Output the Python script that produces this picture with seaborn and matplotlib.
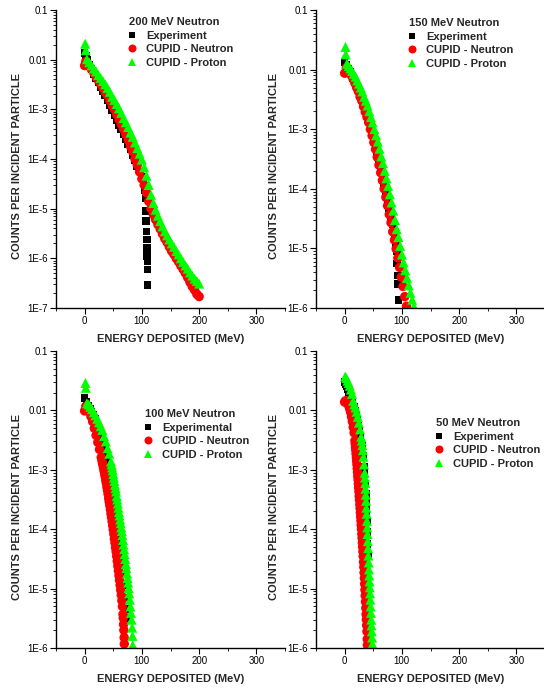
import numpy as np
import pandas as pd
import matplotlib
matplotlib.use("Agg")
import matplotlib.pyplot as plt
import seaborn as sns
from matplotlib.lines import Line2D
from matplotlib.ticker import LogLocator, NullFormatter, MultipleLocator

sns.set_theme(style="ticks")
plt.rcParams["font.family"] = ["Liberation Sans", "DejaVu Sans"]

# ---------------- data ----------------
# 200 MeV
e200_exp = [0, 2, 4, 8, 12, 16, 20, 24, 28, 32, 36, 40, 44, 48, 52, 56, 60, 64, 68, 72, 76, 80, 84, 88, 92, 96,
            100, 103, 105, 106, 107, 107.5, 108, 108.5, 109, 109.3, 109.5, 109.7, 110]
c200_exp = [1.35e-2, 1.2e-2, 1.0e-2, 7.9e-3, 6.5e-3, 5.2e-3, 4.3e-3, 3.5e-3, 2.8e-3, 2.3e-3, 1.9e-3, 1.5e-3, 1.2e-3,
            9.5e-4, 7.6e-4, 6.0e-4, 4.9e-4, 4.0e-4, 3.2e-4, 2.5e-4, 2.0e-4, 1.55e-4, 1.2e-4, 9.3e-5, 7.2e-5, 5.6e-5,
            4.3e-5, 3.2e-5, 2.4e-5, 1.6e-5, 8.9e-6, 5.6e-6, 3.5e-6, 2.4e-6, 1.6e-6, 1.1e-6, 8.9e-7, 6.0e-7, 2.9e-7]
e200_neu = [0, 2, 4, 8, 12, 16, 20, 24, 28, 32, 36, 40, 44, 48, 52, 56, 60, 64, 68, 72, 76, 80, 84, 88, 92, 96,
            100, 104, 108, 112, 116, 120, 124, 128, 132, 136, 140, 144, 148, 152, 156, 160, 164, 168, 172, 176,
            180, 184, 188, 192, 196, 200]
c200_neu = [7.6e-3, 9.2e-3, 8.7e-3, 7.4e-3, 6.3e-3, 5.4e-3, 4.5e-3, 3.8e-3, 3.2e-3, 2.7e-3, 2.2e-3, 1.9e-3, 1.5e-3,
            1.2e-3, 1.0e-3, 7.9e-4, 6.3e-4, 5.0e-4, 4.0e-4, 3.1e-4, 2.4e-4, 1.8e-4, 1.4e-4, 1.0e-4, 7.6e-5, 5.5e-5,
            4.0e-5, 3.0e-5, 2.1e-5, 1.4e-5, 1.0e-5, 7.6e-6, 6.0e-6, 4.8e-6, 3.9e-6, 3.1e-6, 2.5e-6, 2.1e-6, 1.7e-6,
            1.4e-6, 1.2e-6, 1.0e-6, 8.5e-7, 7.1e-7, 6.0e-7, 5.0e-7, 4.1e-7, 3.3e-7, 2.7e-7, 2.3e-7, 1.9e-7, 1.7e-7]
e200_pro = [1, 2, 4, 8, 12, 16, 20, 24, 28, 32, 36, 40, 44, 48, 52, 56, 60, 64, 68, 72, 76, 80, 84, 88, 92, 96,
            100, 104, 108, 112, 116, 120, 124, 128, 132, 136, 140, 144, 148, 152, 156, 160, 164, 168, 172, 176,
            180, 184, 188, 192, 196, 200]
c200_pro = [2.1e-2, 1.55e-2, 1.02e-2, 8.9e-3, 7.7e-3, 6.6e-3, 5.8e-3, 4.9e-3, 4.3e-3, 3.7e-3, 3.2e-3, 2.7e-3,
            2.25e-3, 1.8e-3, 1.55e-3, 1.28e-3, 1.05e-3, 8.5e-4, 6.7e-4, 5.5e-4, 4.4e-4, 3.4e-4, 2.8e-4, 2.15e-4,
            1.65e-4, 1.28e-4, 9.7e-5, 6.8e-5, 4.6e-5, 3.0e-5, 1.9e-5, 1.3e-5, 9.5e-6, 7.2e-6, 5.6e-6, 4.4e-6,
            3.5e-6, 2.9e-6, 2.4e-6, 2.0e-6, 1.7e-6, 1.4e-6, 1.2e-6, 1.0e-6, 8.5e-7, 7.2e-7, 6.2e-7, 5.2e-7,
            4.5e-7, 3.9e-7, 3.5e-7, 3.1e-7]

# 150 MeV
e150_exp = [0, 3, 6, 9, 12, 15, 18, 21, 24, 27, 30, 33, 36, 39, 42, 45, 48, 51, 54, 57, 60, 63, 66, 69, 72, 75,
            78, 81, 84, 87, 90, 91, 92, 93, 93.5, 94]
c150_exp = [1.35e-2, 1.2e-2, 1.05e-2, 9.3e-3, 8.3e-3, 7.2e-3, 6.3e-3, 5.4e-3, 4.6e-3, 3.9e-3, 3.2e-3, 2.7e-3,
            2.2e-3, 1.8e-3, 1.4e-3, 1.1e-3, 8.7e-4, 6.8e-4, 5.2e-4, 4.0e-4, 3.0e-4, 2.2e-4, 1.66e-4, 1.23e-4,
            8.9e-5, 6.5e-5, 4.7e-5, 3.4e-5, 2.5e-5, 1.74e-5, 1.2e-5, 8.9e-6, 5.6e-6, 3.5e-6, 2.5e-6, 1.35e-6]
e150_neu = [0, 3, 6, 9, 12, 15, 18, 21, 24, 27, 30, 33, 36, 39, 42, 45, 48, 51, 54, 57, 60, 63, 66, 69, 72, 75,
            78, 81, 84, 87, 90, 93, 96, 99, 102, 105, 108]
c150_neu = [8.7e-3, 1.07e-2, 1.0e-2, 8.9e-3, 7.9e-3, 6.9e-3, 5.9e-3, 5.0e-3, 4.3e-3, 3.5e-3, 3.0e-3, 2.4e-3,
            1.95e-3, 1.6e-3, 1.3e-3, 1.0e-3, 7.8e-4, 6.0e-4, 4.6e-4, 3.4e-4, 2.5e-4, 1.86e-4, 1.38e-4, 1.0e-4,
            7.2e-5, 5.2e-5, 3.7e-5, 2.7e-5, 1.9e-5, 1.38e-5, 9.8e-6, 6.9e-6, 4.8e-6, 3.3e-6, 2.3e-6, 1.55e-6,
            1.07e-6]
e150_pro = [1.5, 2, 4, 7, 10, 13, 16, 19, 22, 25, 28, 31, 34, 37, 40, 43, 46, 49, 52, 55, 58, 61, 64, 67, 70,
            73, 76, 79, 82, 85, 88, 91, 94, 97, 100, 103, 106, 109, 112, 115, 118, 121]
c150_pro = [2.4e-2, 1.8e-2, 1.26e-2, 1.15e-2, 1.05e-2, 9.5e-3, 8.5e-3, 7.6e-3, 6.6e-3, 5.8e-3, 5.0e-3, 4.3e-3,
            3.5e-3, 3.0e-3, 2.5e-3, 2.0e-3, 1.6e-3, 1.3e-3, 1.0e-3, 7.9e-4, 6.2e-4, 4.7e-4, 3.5e-4, 2.7e-4,
            2.0e-4, 1.5e-4, 1.12e-4, 8.1e-5, 5.9e-5, 4.3e-5, 3.0e-5, 2.1e-5, 1.55e-5, 1.1e-5, 7.9e-6, 5.8e-6,
            4.3e-6, 3.2e-6, 2.4e-6, 1.8e-6, 1.38e-6, 1.07e-6]

# 100 MeV
e100_exp = [0, 3, 6, 9, 12, 15, 18, 21, 24, 27, 30, 33, 36, 39, 42, 45, 48, 50, 52, 54, 56, 58, 60, 62, 64, 66,
            68, 69.5, 70.5, 71.3, 72, 72.5]
c100_exp = [1.6e-2, 1.38e-2, 1.2e-2, 1.07e-2, 9.5e-3, 8.3e-3, 7.2e-3, 6.2e-3, 5.2e-3, 4.4e-3, 3.5e-3, 2.8e-3,
            2.2e-3, 1.66e-3, 1.23e-3, 8.9e-4, 6.3e-4, 4.9e-4, 3.7e-4, 2.8e-4, 2.1e-4, 1.55e-4, 1.12e-4, 8.1e-5,
            5.8e-5, 4.0e-5, 2.7e-5, 1.8e-5, 1.12e-5, 7.1e-6, 4.5e-6, 3.2e-6]
e100_neu = [0, 2, 5, 8, 11, 14, 17, 20, 23, 26, 29, 30, 31, 32, 33, 34, 35, 36, 37, 38, 39, 40, 41, 42, 43, 44,
            45, 46, 47, 48, 49, 50, 51, 52, 53, 54, 55, 56, 57, 58, 59, 60, 61, 62, 63, 64, 65, 66, 67, 67.5, 68,
            68.5, 69, 69.3]
c100_neu = [9.8e-3, 1.17e-2, 1.12e-2, 9.5e-3, 7.9e-3, 6.5e-3, 5.0e-3, 3.8e-3, 2.9e-3, 2.2e-3, 1.62e-3, 1.48e-3,
            1.32e-3, 1.2e-3, 1.07e-3, 9.5e-4, 8.5e-4, 7.6e-4, 6.6e-4, 5.9e-4, 5.1e-4, 4.5e-4, 3.9e-4, 3.3e-4,
            2.9e-4, 2.5e-4, 2.14e-4, 1.82e-4, 1.58e-4, 1.35e-4, 1.15e-4, 9.8e-5, 8.3e-5, 6.9e-5, 5.9e-5, 4.9e-5,
            4.2e-5, 3.5e-5, 2.9e-5, 2.4e-5, 2.0e-5, 1.66e-5, 1.38e-5, 1.15e-5, 9.5e-6, 7.8e-6, 6.3e-6, 5.0e-6,
            3.7e-6, 3.2e-6, 2.5e-6, 2.0e-6, 1.5e-6, 1.17e-6]
e100_pro = [1.5, 2, 4, 7, 10, 13, 16, 19, 22, 25, 28, 31, 34, 37, 40, 43, 46, 47, 48, 49, 50, 51, 52, 53, 54, 55,
            56, 57, 58, 59, 60, 61, 62, 63, 64, 65, 66, 67, 68, 69, 70, 71, 72, 73, 74, 75, 76, 77, 78, 79, 80,
            81, 82, 83, 83.5, 84]
c100_pro = [2.9e-2, 2.4e-2, 1.32e-2, 1.26e-2, 1.15e-2, 1.05e-2, 9.3e-3, 8.3e-3, 7.2e-3, 6.3e-3, 5.4e-3, 4.7e-3,
            3.7e-3, 3.0e-3, 2.3e-3, 1.86e-3, 1.38e-3, 1.23e-3, 1.1e-3, 9.8e-4, 8.5e-4, 7.4e-4, 6.5e-4, 5.6e-4,
            4.9e-4, 4.3e-4, 3.6e-4, 3.16e-4, 2.7e-4, 2.3e-4, 1.95e-4, 1.7e-4, 1.45e-4, 1.26e-4, 1.07e-4, 9.3e-5,
            7.9e-5, 6.6e-5, 5.5e-5, 4.6e-5, 3.8e-5, 3.16e-5, 2.6e-5, 2.2e-5, 1.8e-5, 1.5e-5, 1.26e-5, 1.02e-5,
            8.3e-6, 6.5e-6, 5.0e-6, 3.9e-6, 3.0e-6, 2.2e-6, 1.6e-6, 1.12e-6]

# 50 MeV
e50_exp = [0, 2, 4, 6, 8, 10, 12, 14, 16, 18, 20, 22, 24, 26, 28, 30, 32, 34, 35, 36, 37, 37.5, 38, 38.5, 39,
           39.5, 40, 40.5]
c50_exp = [3.0e-2, 2.8e-2, 2.6e-2, 2.3e-2, 2.0e-2, 1.8e-2, 1.55e-2, 1.35e-2, 1.15e-2, 9.8e-3, 8.3e-3, 6.9e-3,
           5.6e-3, 4.5e-3, 3.4e-3, 2.5e-3, 1.74e-3, 1.12e-3, 8.3e-4, 5.9e-4, 4.0e-4, 3.2e-4, 2.5e-4, 1.9e-4,
           1.4e-4, 8.9e-5, 5.6e-5, 3.5e-5]
e50_neu = [0, 1.5, 3, 4.5, 6, 7.5, 9, 10.5, 12, 13.5, 15, 16.5, 18, 18.5, 19, 19.5, 20, 20.5, 21, 21.5, 22, 22.5,
           23, 23.5, 24, 24.5, 25, 25.5, 26, 26.5, 27, 27.5, 28, 28.5, 29, 29.5, 30, 30.5, 31, 31.5, 32, 32.5,
           33, 33.5, 34, 34.5, 35, 35.5, 36, 36.5, 37, 37.5, 38, 38.5, 39, 39.5, 39.7]
c50_neu = [1.38e-2, 1.45e-2, 1.45e-2, 1.38e-2, 1.29e-2, 1.17e-2, 1.05e-2, 9.3e-3, 7.8e-3, 6.5e-3, 5.2e-3, 4.2e-3,
           3.1e-3, 2.75e-3, 2.4e-3, 2.14e-3, 1.86e-3, 1.62e-3, 1.41e-3, 1.23e-3, 1.05e-3, 9.1e-4, 7.8e-4, 6.8e-4,
           5.8e-4, 5.0e-4, 4.3e-4, 3.6e-4, 3.1e-4, 2.6e-4, 2.24e-4, 1.9e-4, 1.62e-4, 1.38e-4, 1.17e-4, 1.0e-4,
           8.3e-5, 7.1e-5, 5.9e-5, 5.0e-5, 4.2e-5, 3.5e-5, 2.8e-5, 2.3e-5, 1.86e-5, 1.5e-5, 1.2e-5, 9.5e-6,
           7.6e-6, 6.0e-6, 4.7e-6, 3.7e-6, 3.0e-6, 2.4e-6, 1.9e-6, 1.41e-6, 1.12e-6]
e50_pro = [1, 3, 5, 7, 9, 11, 13, 15, 17, 19, 21, 23, 25, 27, 29, 30, 31, 32, 33, 34, 35, 35.5, 36, 36.5, 37,
           37.5, 38, 38.5, 39, 39.5, 40, 40.5, 41, 41.5, 42, 42.5, 43, 43.5, 44, 44.5, 45, 45.5, 46, 46.5, 47,
           47.5, 48, 48.5]
c50_pro = [3.7e-2, 3.5e-2, 3.16e-2, 2.9e-2, 2.6e-2, 2.24e-2, 1.9e-2, 1.45e-2, 1.26e-2, 1.12e-2, 9.5e-3, 7.8e-3,
           6.2e-3, 4.8e-3, 3.6e-3, 3.1e-3, 2.6e-3, 2.14e-3, 1.66e-3, 1.23e-3, 8.9e-4, 7.4e-4, 6.0e-4, 4.8e-4,
           3.8e-4, 3.0e-4, 2.3e-4, 1.82e-4, 1.38e-4, 1.07e-4, 8.3e-5, 6.3e-5, 4.8e-5, 3.6e-5, 2.75e-5, 2.1e-5,
           1.66e-5, 1.32e-5, 1.05e-5, 8.3e-6, 6.5e-6, 5.0e-6, 3.9e-6, 3.0e-6, 2.4e-6, 1.9e-6, 1.5e-6, 1.17e-6]

panel_titles = ["200 MeV Neutron", "150 MeV Neutron", "100 MeV Neutron", "50 MeV Neutron"]
exp_labels = ["Experiment", "Experiment", "Experimental", "Experiment"]
neu_label = "CUPID - Neutron"
pro_label = "CUPID - Proton"
x_ticks = [0, 100, 200, 300]
x_label = "ENERGY DEPOSITED (MeV)"
y_label = "COUNTS PER INCIDENT PARTICLE"

# ---------------- layout ----------------
W, H = 544, 688
fig = plt.figure(figsize=(W / 100, H / 100), dpi=100)

def add_ax(l, t, w, h):
    return fig.add_axes([l / W, 1 - (t + h) / H, w / W, h / H])

specs = [
    dict(rect=(56, 10, 229, 298), ymin=1e-7, data=[(e200_exp, c200_exp), (e200_neu, c200_neu), (e200_pro, c200_pro)],
         leg=(129, 17), ylx=-0.148),
    dict(rect=(316, 10, 229, 298), ymin=1e-6, data=[(e150_exp, c150_exp), (e150_neu, c150_neu), (e150_pro, c150_pro)],
         leg=(409, 18), ylx=-0.162),
    dict(rect=(56, 351, 229, 297), ymin=1e-6, data=[(e100_exp, c100_exp), (e100_neu, c100_neu), (e100_pro, c100_pro)],
         leg=(145, 409), ylx=-0.148),
    dict(rect=(316, 351, 229, 297), ymin=1e-6, data=[(e50_exp, c50_exp), (e50_neu, c50_neu), (e50_pro, c50_pro)],
         leg=(436, 418), ylx=-0.162),
]

colors = {"exp": "#000000", "neu": "#ff0000", "pro": "#00ff00"}
mk = {"exp": "s", "neu": "o", "pro": "^"}
sz = {"exp": 30, "neu": 46, "pro": 52}
bold = {"weight": "bold", "size": 8}

def fmt_tick(v):
    if v >= 0.01:
        return "0.1" if v > 0.05 else "0.01"
    return "1E%d" % int(round(np.log10(v)))

for i, sp in enumerate(specs):
    ax = add_ax(*sp["rect"])
    keys = ["exp", "neu", "pro"]
    frames = []
    for k, (e, c) in zip(keys, sp["data"]):
        frames.append(pd.DataFrame({"E": e, "counts": c, "series": k}))
    df = pd.concat(frames, ignore_index=True)
    sns.scatterplot(data=df, x="E", y="counts", hue="series", style="series", size="series",
                    palette=colors, markers=mk, sizes=sz, hue_order=keys, style_order=keys,
                    size_order=keys, linewidth=0, legend=False, ax=ax)
    ax.set_yscale("log")
    ax.set_xlim(-50, 350)
    ax.set_ylim(sp["ymin"], 0.1)
    decs = [10.0 ** p for p in range(int(round(np.log10(sp["ymin"]))), 0)]
    ax.set_yticks(decs, [fmt_tick(v) for v in decs])
    ax.yaxis.set_minor_locator(LogLocator(base=10, subs=np.arange(2, 10)))
    ax.yaxis.set_minor_formatter(NullFormatter())
    ax.set_xticks(x_ticks, [str(t) for t in x_ticks])
    ax.xaxis.set_minor_locator(MultipleLocator(50))
    ax.tick_params(which="major", direction="out", length=4, width=0.8, labelsize=7, pad=2, color="black",
                   labelcolor="black")
    ax.tick_params(which="minor", direction="out", length=2.5, width=0.6, color="black")
    for s in ["top", "right"]:
        ax.spines[s].set_visible(False)
    for s in ["left", "bottom"]:
        ax.spines[s].set_linewidth(1.0)
        ax.spines[s].set_color("black")
    ax.set_facecolor("none")
    ax.set_xlabel(x_label, fontdict=bold)
    ax.set_ylabel(y_label, fontdict=bold)
    ax.xaxis.set_label_coords(0.5, -0.088)
    ax.yaxis.set_label_coords(sp["ylx"], 0.475)

    handles = [Line2D([], [], marker=mk[k], color=colors[k], linestyle="none",
                      markersize=np.sqrt(sz[k]) * 0.85, markeredgewidth=0) for k in keys]
    labels = [exp_labels[i], neu_label, pro_label]
    lx, ly = sp["leg"]
    ax.legend(handles, labels, title=panel_titles[i], loc="upper left",
              bbox_to_anchor=(lx / W, 1 - ly / H), bbox_transform=fig.transFigure,
              frameon=False, prop=bold, title_fontproperties=bold, alignment="left",
              handlelength=0.55, handletextpad=1.0, labelspacing=0.32, borderpad=0,
              borderaxespad=0)

fig.savefig("out.png", dpi=100)
